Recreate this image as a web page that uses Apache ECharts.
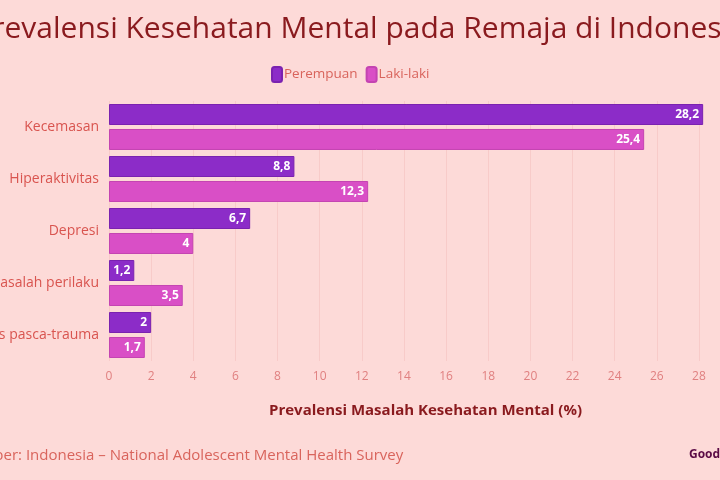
<!DOCTYPE html>
<html><head><meta charset="utf-8">
<script src="https://cdn.jsdelivr.net/npm/echarts@6/dist/echarts.min.js"></script>
<style>html,body{margin:0;padding:0;background:#fddad8;}#c{width:720px;height:480px;}</style>
</head><body><div id="c"></div>
<script>
const categories = ["Kecemasan", "Hiperaktivitas", "Depresi", "Masalah perilaku", "Gangguan stres pasca-trauma"];
const perempuan = [28.2, 8.8, 6.7, 1.2, 2];
const lakiLaki = [25.4, 12.3, 4, 3.5, 1.7];
const seriesNames = ["Perempuan", "Laki-laki"];
const titleText = "Prevalensi Kesehatan Mental pada Remaja di Indonesia";
const axisName = "Prevalensi Masalah Kesehatan Mental (%)";
const sourceText = "Sumber: Indonesia – National Adolescent Mental Health Survey";

const chart = echarts.init(document.getElementById('c'));
const fmt = p => String(p.value).replace('.', ',');
const labelStyle = {show: true, position: 'insideRight', color: '#fff', fontWeight: 'bold', fontSize: 12, fontFamily: 'Open Sans', formatter: fmt, distance: 4};
chart.setOption({
  backgroundColor: '#fddad8',
  animation: false,
  title: [{
    text: titleText, left: 355, top: 9, textAlign: 'center',
    textStyle: {color: '#8a1a1e', fontSize: 30, fontWeight: 'normal', fontFamily: 'Open Sans'}
  }],
  graphic: [
    {type: 'text', left: -37, top: 448, style: {text: sourceText, fill: '#d9645c', fontSize: 15, fontFamily: 'Open Sans'}},
    {type: 'text', left: 689, top: 449, style: {text: 'GoodStats', fill: '#5a0a45', fontSize: 12, fontWeight: 'bold', fontFamily: 'Open Sans'}}
  ],
  legend: {
    data: seriesNames, top: 61, left: 266, itemWidth: 10, itemHeight: 15, itemGap: 8,
    icon: 'roundRect',
    textStyle: {color: '#d9645c', fontSize: 13.5, fontFamily: 'Open Sans', padding: [0, 0, 0, -3]}
  },
  grid: {left: 109, right: 0, top: 101, bottom: 119, containLabel: false, outerBoundsMode: 'none'},
  xAxis: {
    type: 'value', min: 0, max: 29, interval: 2,
    name: axisName, nameLocation: 'middle', nameGap: 42,
    nameTextStyle: {color: '#8a1a1e', fontSize: 15, fontWeight: 'bold', fontFamily: 'Open Sans', padding: [0, 0, 0, 22]},
    axisLine: {show: false}, axisTick: {show: false},
    axisLabel: {color: '#e08080', fontSize: 12, fontFamily: 'Open Sans', showMaxLabel: false, margin: 10},
    splitLine: {show: true, lineStyle: {color: '#f8cbc9', width: 1}}
  },
  yAxis: {
    type: 'category', data: categories, inverse: true,
    axisLine: {show: false}, axisTick: {show: false},
    axisLabel: {color: '#d9544f', fontSize: 14, fontFamily: 'Open Sans', margin: 10},
    splitLine: {show: false}
  },
  series: [
    {name: seriesNames[0], type: 'bar', data: perempuan, barWidth: 21, barGap: '19%',
     itemStyle: {color: '#8c2cc8', borderColor: '#7a22b0', borderWidth: 1}, label: labelStyle},
    {name: seriesNames[1], type: 'bar', data: lakiLaki, barWidth: 21,
     itemStyle: {color: '#d94fc6', borderColor: '#c444b2', borderWidth: 1}, label: labelStyle}
  ]
});
</script></body></html>
